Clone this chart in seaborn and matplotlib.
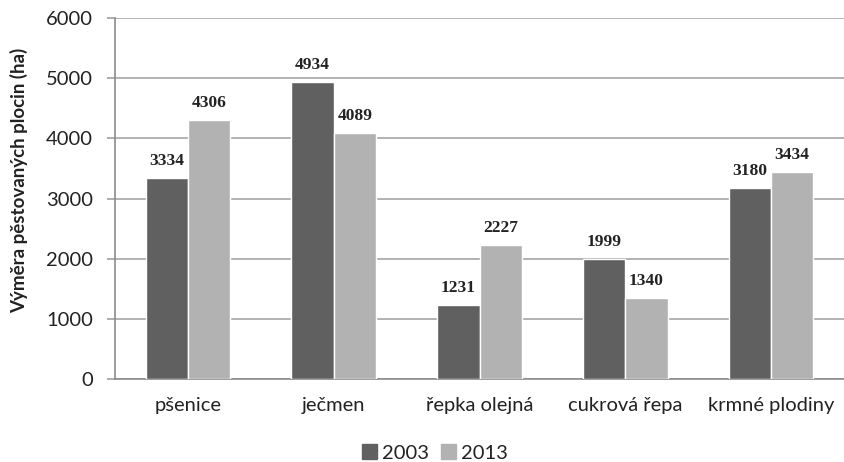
import matplotlib
matplotlib.use("Agg")
import matplotlib.pyplot as plt
import seaborn as sns
import pandas as pd

categories = ["pšenice", "ječmen", "řepka olejná", "cukrová řepa", "krmné plodiny"]
years = ["2003", "2013"]
values_2003 = [3334, 4934, 1231, 1999, 3180]
values_2013 = [4306, 4089, 2227, 1340, 3434]
y_ticks = [0, 1000, 2000, 3000, 4000, 5000, 6000]

df = pd.DataFrame({
    "plodina": categories * 2,
    "rok": [years[0]] * len(categories) + [years[1]] * len(categories),
    "ha": values_2003 + values_2013,
})

sns.set_theme(style="white")
plt.rcParams["font.family"] = ["Lato", "DejaVu Sans"]

W, H = 844, 462
fig = plt.figure(figsize=(W / 100, H / 100), dpi=100)
ax = fig.add_axes([115 / W, 1 - 379 / H, (W - 115) / W, (379 - 18) / H])

palette = {"2003": "#606060", "2013": "#b2b2b2"}
sns.barplot(data=df, x="plodina", y="ha", hue="rok", palette=palette,
            width=0.58, gap=0, saturation=1, ax=ax, legend=False, zorder=3)

for container in ax.containers:
    ax.bar_label(container, fmt="%d", padding=6.5, fontsize=12.5,
                 family="Liberation Serif", fontweight="bold", color="#222222")

ax.set_ylim(0, 6000)
ax.set_xlim(-0.5, 4.5)
ax.set_yticks(y_ticks)
ax.yaxis.grid(True, color="#a6a6a6", linewidth=1.2, zorder=0)
ax.set_axisbelow(True)
ax.tick_params(axis="y", length=6, width=1.2, color="#a0a0a0", labelsize=14.5,
               labelcolor="#222222", pad=10, left=True)
ax.tick_params(axis="x", length=0, labelsize=14.5, labelcolor="#222222", pad=13)
for side in ["top", "right"]:
    ax.spines[side].set_visible(False)
for side in ["left", "bottom"]:
    ax.spines[side].set_color("#8c8c8c")
    ax.spines[side].set_linewidth(1.2)

ax.set_xlabel("")
ax.set_ylabel("")
fig.text(19 / W, 1 - 180 / H, "Výměra pěstovaných plocin (ha)", rotation=90,
         ha="center", va="center", fontsize=13.5, fontweight="bold", color="#222222")

handles = [plt.Rectangle((0, 0), 1, 1, color=palette[y]) for y in years]
fig.legend(handles, years, loc="center", bbox_to_anchor=(0.515, 1 - 453 / H),
           ncol=2, frameon=False, fontsize=14.5, handlelength=0.75, handleheight=0.75,
           handletextpad=0.25, columnspacing=0.6, labelcolor="#222222")

fig.savefig("out.png", dpi=100)
